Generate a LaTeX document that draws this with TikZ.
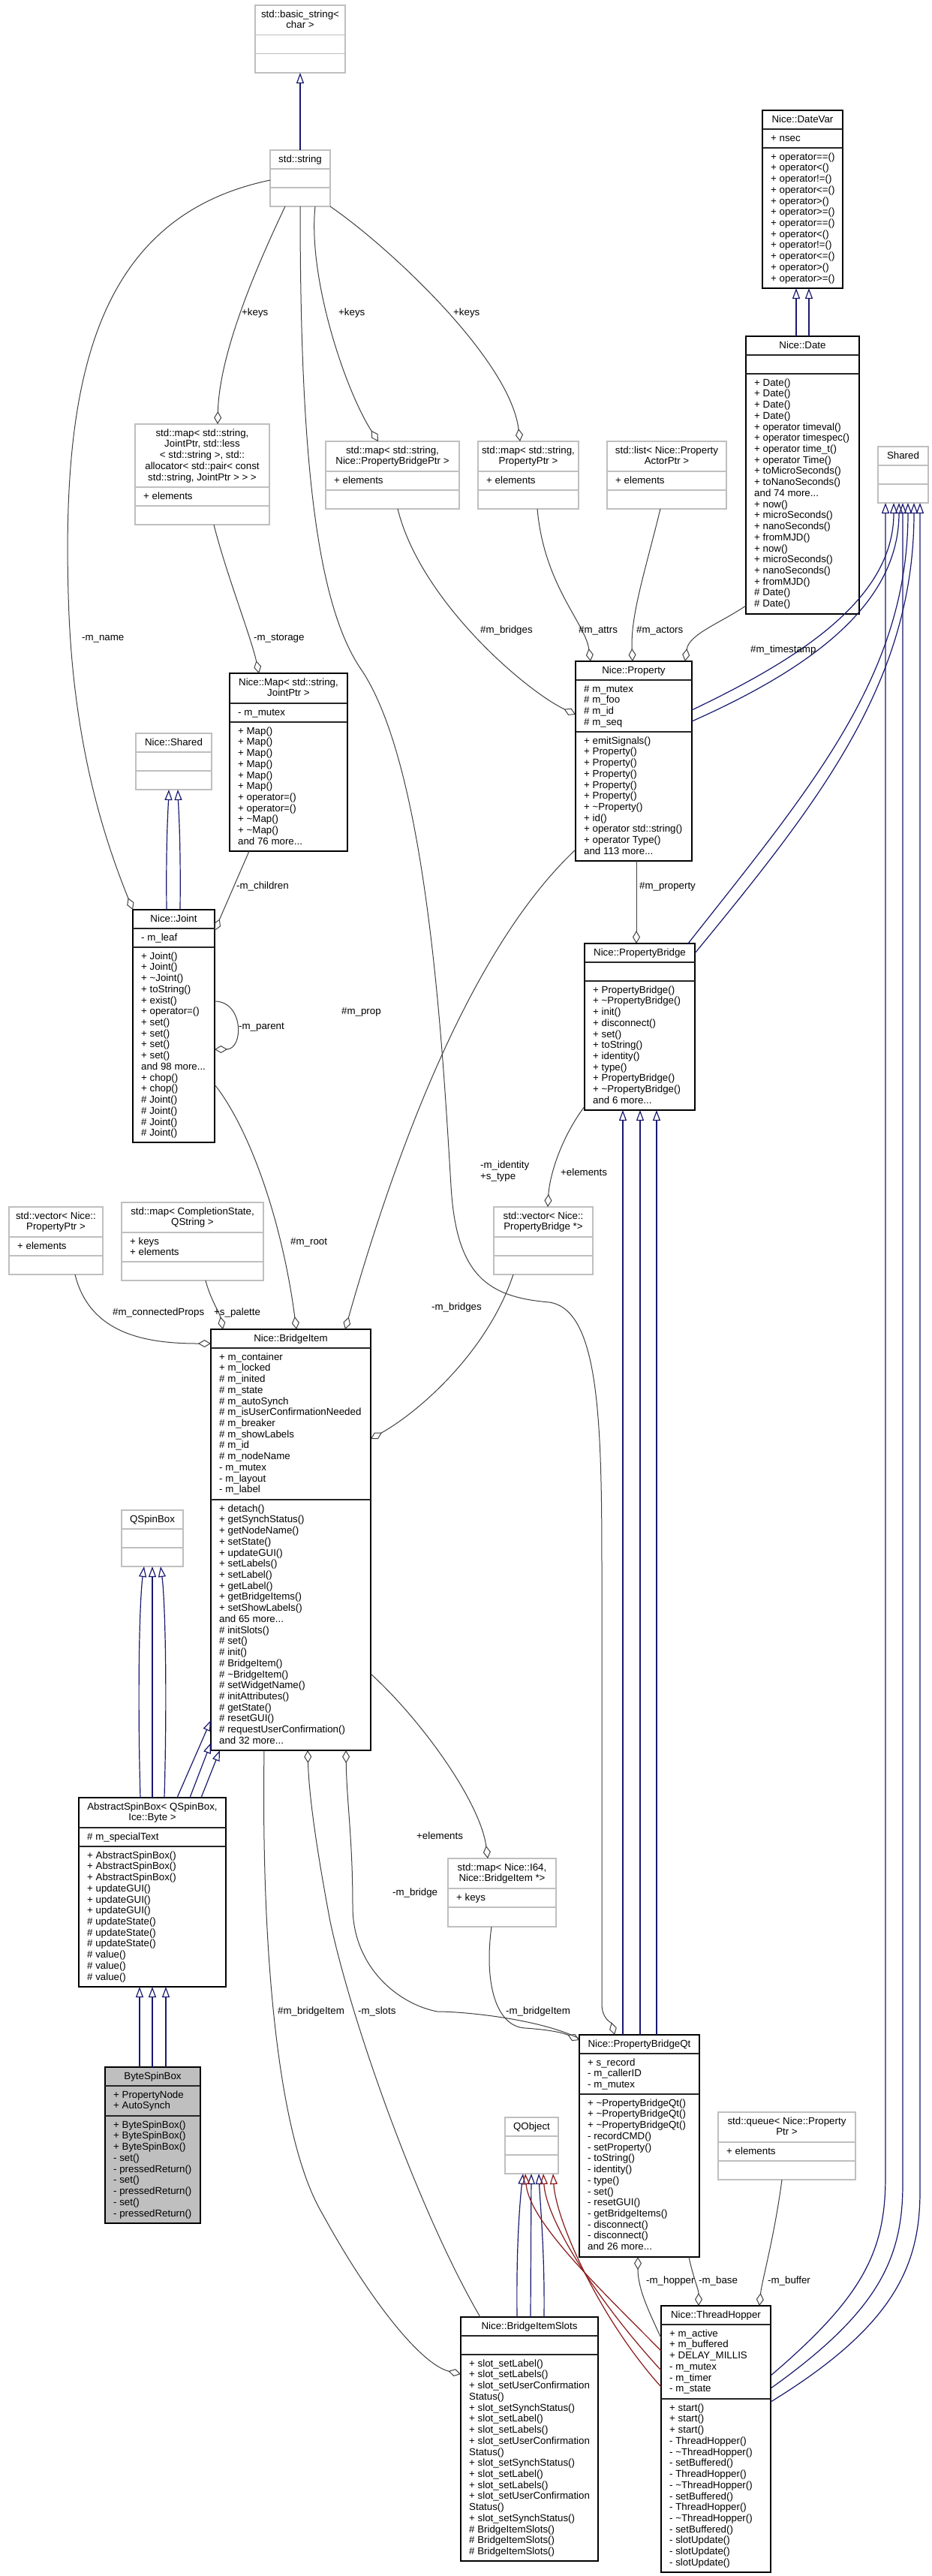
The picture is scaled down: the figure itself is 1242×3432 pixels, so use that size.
\documentclass[tikz,border=0pt]{standalone}
\usepackage{fontspec}
\setmainfont{Liberation Sans}
\usetikzlibrary{arrows.meta,calc}
\definecolor{edgegray}{HTML}{404040}
\definecolor{inhblue}{HTML}{191970}
\definecolor{privred}{HTML}{8B1A1A}
\definecolor{boxgray}{HTML}{BFBFBF}
\newcommand{\Lt}[1]{\begin{tabular}{@{}l@{}}#1\end{tabular}}
\newcommand{\Ct}[1]{\begin{tabular}{@{}c@{}}#1\end{tabular}}
\newcommand{\Tl}{\textasciitilde}
\newcommand{\UB}[7]{\node[#2, anchor=north west, minimum width={(#5)-(#3)}, minimum height={(#6)-(#4)}] (#1) at (#3,#4) {};
  \foreach \sy in {#7} {\draw[#2sep] (#3,\sy) -- (#5,\sy);}}
\newcommand{\HD}[4]{\node[hdr] (#1-h) at (#2,#3) {\Ct{#4}};}
\newcommand{\TX}[5]{\node[txt] (#1-#2) at (#3,#4) {\Lt{#5}};}
\tikzset{
  gbox/.style={draw=boxgray, line width=1.2pt, fill=white, inner sep=0pt, outer sep=0pt},
  bbox/.style={draw=black, line width=1.3pt, fill=white, inner sep=0pt, outer sep=0pt},
  mbox/.style={draw=black, line width=1.3pt, fill=boxgray, inner sep=0pt, outer sep=0pt},
  gboxsep/.style={draw=boxgray, line width=1.2pt},
  bboxsep/.style={draw=black!85, line width=1.3pt},
  mboxsep/.style={draw=black!85, line width=1.3pt},
  txt/.style={font=\fontsize{13.3}{14.72}\selectfont, inner sep=0pt, anchor=north west},
  hdr/.style={font=\fontsize{13.3}{14.72}\selectfont, inner sep=0pt, anchor=north},
  lbl/.style={font=\fontsize{13.3}{14.72}\selectfont, inner sep=0pt, anchor=base west},
  usage/.style={draw=edgegray, line width=1pt, -{Diamond[open, length=17pt, width=10pt]}},
  inherit/.style={draw=inhblue, line width=1.2pt, -{Triangle[open, length=14pt, width=10pt]}},
  privedge/.style={draw=privred, line width=1.2pt, -{Triangle[open, length=14pt, width=10pt]}}
}
\begin{document}
\begin{tikzpicture}[x=1pt, y=-1pt]
\fill[white] (0,0) rectangle (1242,3432);
\useasboundingbox (0,0) rectangle (1242,3432);

% ================= boxes =================
\UB{bstr}{gbox}{340}{7}{460}{97}{46.7,71.7}
\HD{bstr}{400}{12.7}{std::basic\_string<\\char >}

\UB{str}{gbox}{360}{200}{440}{275}{225,250}
\HD{str}{400}{205.7}{std::string}

\UB{datevar}{bbox}{1016}{147}{1123}{384}{172,197}
\HD{datevar}{1069.5}{152.7}{Nice::DateVar}
\TX{datevar}{a}{1027}{177.7}{+ nsec}
\TX{datevar}{m}{1027}{202.7}{+ operator==()\\+ operator<()\\+ operator!=()\\+ operator<=()\\+ operator>()\\+ operator>=()\\+ operator==()\\+ operator<()\\+ operator!=()\\+ operator<=()\\+ operator>()\\+ operator>=()}

\UB{date}{bbox}{994}{448}{1145}{818}{473,498}
\HD{date}{1069.5}{453.7}{Nice::Date}
\TX{date}{m}{1005}{503.7}{+ Date()\\+ Date()\\+ Date()\\+ Date()\\+ operator timeval()\\+ operator timespec()\\+ operator time\_t()\\+ operator Time()\\+ toMicroSeconds()\\+ toNanoSeconds()\\and 74 more...\\+ now()\\+ microSeconds()\\+ nanoSeconds()\\+ fromMJD()\\+ now()\\+ microSeconds()\\+ nanoSeconds()\\+ fromMJD()\\\# Date()\\\# Date()}

\UB{shared}{gbox}{1170}{595}{1237}{670}{620,645}
\HD{shared}{1203.5}{600.7}{Shared}

\UB{mapj}{gbox}{180}{565}{359}{699}{649,674}
\HD{mapj}{269.5}{570.7}{std::map< std::string,\\JointPtr, std::less\\< std::string >, std::\\allocator< std::pair< const\\std::string, JointPtr > > >}
\TX{mapj}{a}{191}{654.7}{+ elements}

\UB{mappb}{gbox}{434}{588}{612}{678}{628,653}
\HD{mappb}{523}{593.7}{std::map< std::string,\\Nice::PropertyBridgePtr >}
\TX{mappb}{a}{445}{633.7}{+ elements}

\UB{mapp}{gbox}{637}{588}{771}{678}{628,653}
\HD{mapp}{704}{593.7}{std::map< std::string,\\PropertyPtr >}
\TX{mapp}{a}{648}{633.7}{+ elements}

\UB{lista}{gbox}{809}{588}{968}{678}{628,653}
\HD{lista}{888.5}{593.7}{std::list< Nice::Property\\ActorPtr >}
\TX{lista}{a}{820}{633.7}{+ elements}

\UB{nshared}{gbox}{181}{977}{282}{1052}{1002,1027}
\HD{nshared}{231.5}{982.7}{Nice::Shared}

\UB{nmap}{bbox}{306}{897}{463}{1134}{937,962}
\HD{nmap}{384.5}{902.7}{Nice::Map< std::string,\\JointPtr >}
\TX{nmap}{a}{317}{942.7}{- m\_mutex}
\TX{nmap}{m}{317}{967.7}{+ Map()\\+ Map()\\+ Map()\\+ Map()\\+ Map()\\+ Map()\\+ operator=()\\+ operator=()\\+ \Tl Map()\\+ \Tl Map()\\and 76 more...}

\UB{joint}{bbox}{177}{1212}{286}{1522}{1237,1262}
\HD{joint}{231.5}{1217.7}{Nice::Joint}
\TX{joint}{a}{188}{1242.7}{- m\_leaf}
\TX{joint}{m}{188}{1267.7}{+ Joint()\\+ Joint()\\+ \Tl Joint()\\+ toString()\\+ exist()\\+ operator=()\\+ set()\\+ set()\\+ set()\\+ set()\\and 98 more...\\+ chop()\\+ chop()\\\# Joint()\\\# Joint()\\\# Joint()\\\# Joint()}

\UB{prop}{bbox}{767}{881}{922}{1147}{906,975}
\HD{prop}{844.5}{886.7}{Nice::Property}
\TX{prop}{a}{778}{911.7}{\# m\_mutex\\\# m\_foo\\\# m\_id\\\# m\_seq}
\TX{prop}{m}{778}{980.7}{+ emitSignals()\\+ Property()\\+ Property()\\+ Property()\\+ Property()\\+ Property()\\+ \Tl Property()\\+ id()\\+ operator std::string()\\+ operator Type()\\and 113 more...}

\UB{pb}{bbox}{779}{1257}{926}{1479}{1282,1307}
\HD{pb}{852.5}{1262.7}{Nice::PropertyBridge}
\TX{pb}{m}{790}{1312.7}{+ PropertyBridge()\\+ \Tl PropertyBridge()\\+ init()\\+ disconnect()\\+ set()\\+ toString()\\+ identity()\\+ type()\\+ PropertyBridge()\\+ \Tl PropertyBridge()\\and 6 more...}

\UB{vecp}{gbox}{12}{1608}{137}{1698}{1648,1673}
\HD{vecp}{74.5}{1613.7}{std::vector< Nice::\\PropertyPtr >}
\TX{vecp}{a}{23}{1653.7}{+ elements}

\UB{mapcs}{gbox}{162}{1602}{351}{1706}{1642,1681}
\HD{mapcs}{256.5}{1607.7}{std::map< CompletionState,\\QString >}
\TX{mapcs}{a}{173}{1647.7}{+ keys\\+ elements}

\UB{vecpb}{gbox}{658}{1608}{790}{1698}{1648,1673}
\HD{vecpb}{724}{1613.7}{std::vector< Nice::\\PropertyBridge *>}

\UB{bi}{bbox}{281}{1771}{494}{2332}{1796,1998}
\HD{bi}{387.5}{1776.7}{Nice::BridgeItem}
\TX{bi}{a}{292}{1801.7}{+ m\_container\\+ m\_locked\\\# m\_inited\\\# m\_state\\\# m\_autoSynch\\\# m\_isUserConfirmationNeeded\\\# m\_breaker\\\# m\_showLabels\\\# m\_id\\\# m\_nodeName\\- m\_mutex\\- m\_layout\\- m\_label}
\TX{bi}{m}{292}{2003.7}{+ detach()\\+ getSynchStatus()\\+ getNodeName()\\+ setState()\\+ updateGUI()\\+ setLabels()\\+ setLabel()\\+ getLabel()\\+ getBridgeItems()\\+ setShowLabels()\\and 65 more...\\\# initSlots()\\\# set()\\\# init()\\\# BridgeItem()\\\# \Tl BridgeItem()\\\# setWidgetName()\\\# initAttributes()\\\# getState()\\\# resetGUI()\\\# requestUserConfirmation()\\and 32 more...}

\UB{qsb}{gbox}{162}{2012}{244}{2087}{2037,2062}
\HD{qsb}{203}{2017.7}{QSpinBox}

\UB{asb}{bbox}{105}{2395}{301}{2647}{2435,2460}
\HD{asb}{203}{2400.7}{AbstractSpinBox< QSpinBox,\\Ice::Byte >}
\TX{asb}{a}{116}{2440.7}{\# m\_specialText}
\TX{asb}{m}{116}{2465.7}{+ AbstractSpinBox()\\+ AbstractSpinBox()\\+ AbstractSpinBox()\\+ updateGUI()\\+ updateGUI()\\+ updateGUI()\\\# updateState()\\\# updateState()\\\# updateState()\\\# value()\\\# value()\\\# value()}

\UB{bsb}{mbox}{140}{2754}{267}{2962}{2779,2819}
\HD{bsb}{203.5}{2759.7}{ByteSpinBox}
\TX{bsb}{a}{151}{2784.7}{+ PropertyNode\\+ AutoSynch}
\TX{bsb}{m}{151}{2824.7}{+ ByteSpinBox()\\+ ByteSpinBox()\\+ ByteSpinBox()\\- set()\\- pressedReturn()\\- set()\\- pressedReturn()\\- set()\\- pressedReturn()}

\UB{mapi}{gbox}{597}{2476}{741}{2567}{2516,2541}
\HD{mapi}{669}{2481.7}{std::map< Nice::I64,\\Nice::BridgeItem *>}
\TX{mapi}{a}{608}{2521.7}{+ keys}

\UB{pbqt}{bbox}{772}{2711}{932}{3007}{2736,2790}
\HD{pbqt}{852}{2716.7}{Nice::PropertyBridgeQt}
\TX{pbqt}{a}{783}{2741.7}{+ s\_record\\- m\_callerID\\- m\_mutex}
\TX{pbqt}{m}{783}{2795.7}{+ \Tl PropertyBridgeQt()\\+ \Tl PropertyBridgeQt()\\+ \Tl PropertyBridgeQt()\\- recordCMD()\\- setProperty()\\- toString()\\- identity()\\- type()\\- set()\\- resetGUI()\\- getBridgeItems()\\- disconnect()\\- disconnect()\\and 26 more...}

\UB{qobj}{gbox}{673}{2821}{744}{2896}{2846,2871}
\HD{qobj}{708.5}{2826.7}{QObject}

\UB{queue}{gbox}{957}{2814}{1140}{2904}{2854,2879}
\HD{queue}{1048.5}{2819.7}{std::queue< Nice::Property\\Ptr >}
\TX{queue}{a}{968}{2859.7}{+ elements}

\UB{bis}{bbox}{614}{3087}{797}{3412}{3112,3137}
\HD{bis}{705.5}{3092.7}{Nice::BridgeItemSlots}
\TX{bis}{m}{625}{3142.7}{+ slot\_setLabel()\\+ slot\_setLabels()\\+ slot\_setUserConfirmation\\Status()\\+ slot\_setSynchStatus()\\+ slot\_setLabel()\\+ slot\_setLabels()\\+ slot\_setUserConfirmation\\Status()\\+ slot\_setSynchStatus()\\+ slot\_setLabel()\\+ slot\_setLabels()\\+ slot\_setUserConfirmation\\Status()\\+ slot\_setSynchStatus()\\\# BridgeItemSlots()\\\# BridgeItemSlots()\\\# BridgeItemSlots()}

\UB{th}{bbox}{881}{3072}{1027}{3427}{3097,3196}
\HD{th}{954}{3077.7}{Nice::ThreadHopper}
\TX{th}{a}{892}{3102.7}{+ m\_active\\+ m\_buffered\\+ DELAY\_MILLIS\\- m\_mutex\\- m\_timer\\- m\_state}
\TX{th}{m}{892}{3201.7}{+ start()\\+ start()\\+ start()\\- ThreadHopper()\\- \Tl ThreadHopper()\\- setBuffered()\\- ThreadHopper()\\- \Tl ThreadHopper()\\- setBuffered()\\- ThreadHopper()\\- \Tl ThreadHopper()\\- setBuffered()\\- slotUpdate()\\- slotUpdate()\\- slotUpdate()}

% ================= inheritance edges =================
\draw[inherit] (str.north) -- (bstr.south);
\draw[inherit] (1061,0 |- date.north) -- (1061,0 |- datevar.south);
\draw[inherit] (1078,0 |- date.north) -- (1078,0 |- datevar.south);
\draw[inherit] (prop.east |- 0,946) .. controls (1060,880) and (1191,800) .. (1191,0 |- shared.south);
\draw[inherit] (prop.east |- 0,961) .. controls (1070,895) and (1198,810) .. (1198,0 |- shared.south);
\draw[inherit] (917,0 |- pb.north) .. controls (1080,1050) and (1210,900) .. (1210,0 |- shared.south);
\draw[inherit] (pb.east |- 0,1270) .. controls (1090,1070) and (1218,910) .. (1218,0 |- shared.south);
\draw[inherit] (th.east |- 0,3165) .. controls (1150,3060) and (1180,3000) .. (1180,2900) -- (1180,0 |- shared.south);
\draw[inherit] (th.east |- 0,3182) .. controls (1170,3080) and (1203,3010) .. (1203,2910) -- (1203,0 |- shared.south);
\draw[inherit] (th.east |- 0,3200) .. controls (1190,3100) and (1226,3020) .. (1226,2920) -- (1226,0 |- shared.south);
\draw[inherit] (222,0 |- joint.north) .. controls (221,1120) and (224,1080) .. (225,0 |- nshared.south);
\draw[inherit] (240,0 |- joint.north) .. controls (241,1120) and (238,1080) .. (237,0 |- nshared.south);
\foreach \xx in {830,853,875} {\draw[inherit] (\xx,0 |- pbqt.north) -- (\xx,0 |- pb.south);}
\draw[inherit] (187,0 |- asb.north) .. controls (183,2250) and (186,2130) .. (192,0 |- qsb.south);
\draw[inherit] (203,0 |- asb.north) -- (203,0 |- qsb.south);
\draw[inherit] (219,0 |- asb.north) .. controls (223,2250) and (220,2130) .. (214,0 |- qsb.south);
\foreach \xx in {186,203,221} {\draw[inherit] (\xx,0 |- bsb.north) -- (\xx,0 |- asb.south);}
\draw[inherit] (236,0 |- asb.north) -- (bi.west |- 0,2292);
\draw[inherit] (253,0 |- asb.north) -- (bi.west |- 0,2322);
\draw[inherit] (268,0 |- asb.north) -- (293,0 |- bi.south);
\draw[inherit] (689,0 |- bis.north) .. controls (688,3000) and (692,2940) .. (697,0 |- qobj.south);
\draw[inherit] (707,0 |- bis.north) -- (708,0 |- qobj.south);
\draw[inherit] (725,0 |- bis.north) .. controls (726,3000) and (720,2940) .. (718,0 |- qobj.south);
\draw[privedge] (th.west |- 0,3132) .. controls (800,3050) and (705,2960) .. (700,0 |- qobj.south);
\draw[privedge] (th.west |- 0,3158) .. controls (800,3070) and (728,2960) .. (724,0 |- qobj.south);
\draw[privedge] (th.west |- 0,3180) .. controls (800,3090) and (741,2960) .. (737,0 |- qobj.south);

% ================= usage edges =================
\draw[usage] (380,0 |- str.south) .. controls (330,380) and (292,480) .. (290,0 |- mapj.north);
\draw[usage] (420,0 |- str.south) .. controls (410,370) and (460,520) .. (504,0 |- mappb.north);
\draw[usage] (str.south east) .. controls (520,330) and (680,480) .. (693,0 |- mapp.north);
\draw[usage] (285,0 |- mapj.south) .. controls (300,760) and (335,850) .. (345,0 |- nmap.north);
\draw[usage] (332,0 |- nmap.south) -- (joint.east |- 0,1240);
\draw[usage] (str.west |- 0,240) .. controls (120,290) and (80,520) .. (92,820) .. controls (100,1000) and (140,1120) .. (joint.north west);
\draw[usage] (joint.east |- 0,1334) .. controls (325,1334) and (325,1398) .. (joint.east |- 0,1398);
\draw[usage] (joint.east |- 0,1445) .. controls (330,1500) and (375,1620) .. (395,0 |- bi.north);
\draw[usage] (530,0 |- mappb.south) .. controls (560,800) and (700,920) .. (prop.west |- 0,952);
\draw[usage] (716,0 |- mapp.south) .. controls (725,780) and (780,830) .. (787,0 |- prop.north);
\draw[usage] (880,0 |- lista.south) .. controls (860,760) and (840,820) .. (843,0 |- prop.north);
\draw[usage] (date.west |- 0,807) .. controls (960,830) and (918,845) .. (913,0 |- prop.north);
\draw[usage] (848,0 |- prop.south) -- (848,0 |- pb.north);
\draw[usage] (prop.west |- 0,1132) .. controls (620,1270) and (520,1560) .. (460,0 |- bi.north);
\draw[usage] (pb.west |- 0,1474) .. controls (745,1520) and (732,1570) .. (730,0 |- vecpb.north);
\draw[usage] (684,0 |- vecpb.south) .. controls (650,1800) and (560,1880) .. (bi.east |- 0,1917);
\draw[usage] (100,0 |- vecp.south) .. controls (120,1780) and (200,1790) .. (bi.west |- 0,1790);
\draw[usage] (274,0 |- mapcs.south) .. controls (280,1730) and (293,1750) .. (297,0 |- bi.north);
\draw[usage] (400,0 |- str.south) .. controls (400,600) and (420,800) .. (480,890) .. controls (570,1020) and (590,1400) .. (601,1580) .. controls (608,1700) and (650,1728) .. (732,1735) .. controls (800,1745) and (802,1900) .. (802,2100) -- (802,2670) .. controls (802,2690) and (815,2695) .. (819,0 |- pbqt.north);
\draw[usage] (bi.east |- 0,2230) .. controls (560,2290) and (640,2400) .. (650,0 |- mapi.north);
\draw[usage] (655,0 |- mapi.south) .. controls (645,2640) and (660,2700) .. (700,2702) .. controls (730,2704) and (750,2708) .. (pbqt.west |- 0,2718);
\draw[usage] (pbqt.west |- 0,2716) .. controls (720,2690) and (620,2680) .. (583,2680) .. controls (530,2670) and (470,2620) .. (470,2540) .. controls (470,2450) and (462,2400) .. (461,0 |- bi.south);
\draw[usage] (640,0 |- bis.north) .. controls (560,2950) and (470,2700) .. (440,2560) .. controls (425,2480) and (412,2400) .. (410,0 |- bi.south);
\draw[usage] (352,0 |- bi.south) .. controls (348,2600) and (370,2850) .. (430,2950) .. controls (490,3060) and (560,3150) .. (bis.west |- 0,3163);
\draw[usage] (th.west |- 0,3115) .. controls (865,3080) and (850,3050) .. (850,0 |- pbqt.south);
\draw[usage] (918,0 |- pbqt.south) .. controls (924,3035) and (931,3050) .. (931,0 |- th.north);
\draw[usage] (1042,0 |- queue.south) .. controls (1032,2980) and (1015,3040) .. (1012,0 |- th.north);

% ================= edge labels =================
\node[lbl] (l-k1) at (322,420) {+keys};
\node[lbl] (l-k2) at (451,420) {+keys};
\node[lbl] (l-k3) at (604,420) {+keys};
\node[lbl] (l-name) at (109,853) {-m\_name};
\node[lbl] (l-stor) at (338,853) {-m\_storage};
\node[lbl] (l-chil) at (315,1184) {-m\_children};
\node[lbl] (l-par) at (318,1371) {-m\_parent};
\node[lbl] (l-brs) at (640,843) {\#m\_bridges};
\node[lbl] (l-att) at (771,843) {\#m\_attrs};
\node[lbl] (l-act) at (848,843) {\#m\_actors};
\node[lbl] (l-ts) at (1000,869) {\#m\_timestamp};
\node[lbl] (l-prop) at (852,1184) {\#m\_property};
\node[lbl] (l-el1) at (747,1566) {+elements};
\node[lbl] (l-id) at (640,1556) {-m\_identity};
\node[lbl] (l-st) at (640,1571) {+s\_type};
\node[lbl] (l-pr) at (455,1351) {\#m\_prop};
\node[lbl] (l-root) at (387,1658) {\#m\_root};
\node[lbl] (l-cp) at (150,1752) {\#m\_connectedProps};
\node[lbl] (l-pal) at (285,1752) {+s\_palette};
\node[lbl] (l-brg) at (575,1745) {-m\_bridges};
\node[lbl] (l-el2) at (555,2450) {+elements};
\node[lbl] (l-bri) at (523,2525) {-m\_bridge};
\node[lbl] (l-bit) at (370,2683) {\#m\_bridgeItem};
\node[lbl] (l-slo) at (477,2683) {-m\_slots};
\node[lbl] (l-bit2) at (674,2683) {-m\_bridgeItem};
\node[lbl] (l-hop) at (861,3042) {-m\_hopper};
\node[lbl] (l-base) at (931,3042) {-m\_base};
\node[lbl] (l-buf) at (1023,3042) {-m\_buffer};
\end{tikzpicture}
\end{document}
